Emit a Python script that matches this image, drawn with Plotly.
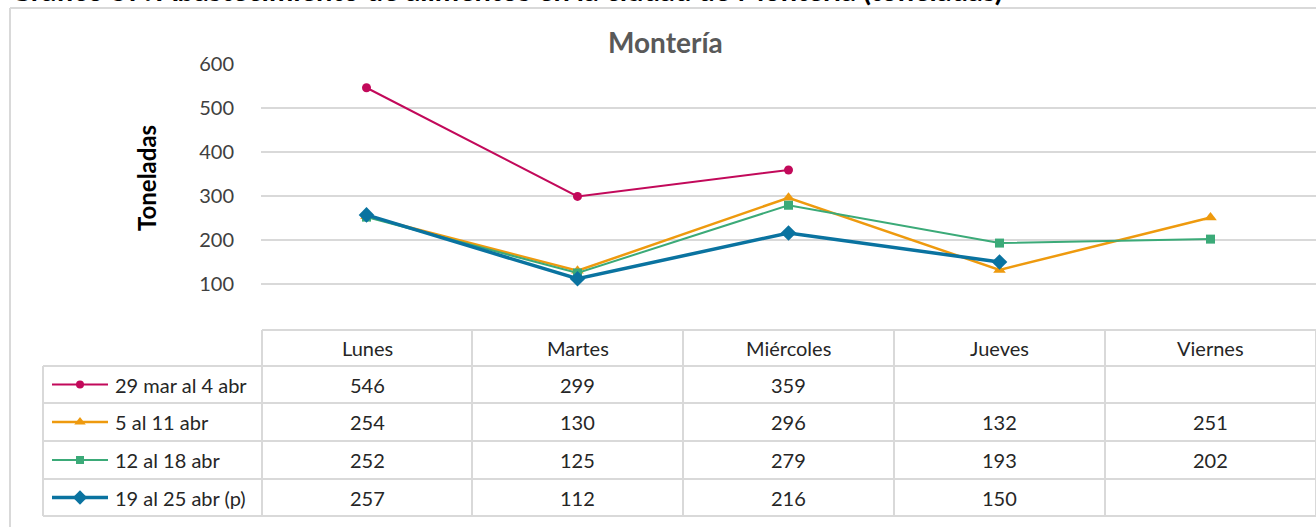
import plotly.graph_objects as go

# ---- data ----
categories = ["Lunes", "Martes", "Miércoles", "Jueves", "Viernes"]
series_names = ["29 mar al 4 abr", "5 al 11 abr", "12 al 18 abr", "19 al 25 abr (p)"]
s1 = [546, 299, 359, None, None]
s2 = [254, 130, 296, 132, 251]
s3 = [252, 125, 279, 193, 202]
s4 = [257, 112, 216, 150, None]
series_values = [s1, s2, s3, s4]
y_ticks = [100, 200, 300, 400, 500, 600]
chart_title = "Montería"
y_title = "Toneladas"
page_title = "Gráfico 57. Abastecimiento de alimentos en la ciudad de Montería (toneladas)"

# ---- styles ----
colors = ["#C2095A", "#EE9A0E", "#3BAA78", "#0A73A0"]
symbols = ["circle", "triangle-up", "square", "diamond"]
widths = [2, 2.5, 2, 3.5]
msizes = [9, 11, 9, 12]
grid = "#D9D9D9"
FONT = "Lato"
TXT = 20

W, H = 1316, 527
fig = go.Figure()

for name, vals, c, sym, w, ms in zip(series_names, series_values, colors, symbols, widths, msizes):
    fig.add_trace(go.Scatter(
        x=categories, y=vals, mode="lines+markers", name=name,
        line=dict(color=c, width=w), marker=dict(symbol=sym, size=ms, color=c),
        connectgaps=False, showlegend=False, xaxis="x", yaxis="y"))

# table geometry (pixel coords on overlay axes)
col_edges = [262, 472, 683, 894, 1105, 1316]
row_edges = [330, 366, 403, 441, 479, 516]
legend_left = 43
shapes = []
def line(x0, y0, x1, y1, width=2, color=grid):
    shapes.append(dict(type="line", xref="x2", yref="y2", x0=x0, y0=y0, x1=x1, y1=y1,
                       line=dict(color=color, width=width)))

# outer chart border
line(10, 8, 1320, 8)
line(10, 8, 10, 530)
# table horizontal lines
line(col_edges[0], row_edges[0], 1320, row_edges[0])
for ry in row_edges[1:]:
    line(legend_left, ry, 1320, ry)
# vertical lines
for cx in col_edges:
    line(cx, row_edges[0], cx, row_edges[-1])
line(legend_left, row_edges[1], legend_left, row_edges[-1])

annotations = []
# header
for i, cat in enumerate(categories):
    cx = (col_edges[i] + col_edges[i + 1]) / 2
    annotations.append(dict(x=cx, y=(row_edges[0] + row_edges[1]) / 2, xref="x2", yref="y2",
                            text=cat, showarrow=False, font=dict(family=FONT, size=TXT, color="#262626")))
# rows
for r, (name, vals, c, sym, w, ms) in enumerate(zip(series_names, series_values, colors, symbols, widths, msizes)):
    cy = (row_edges[r + 1] + row_edges[r + 2]) / 2
    annotations.append(dict(x=113, y=cy, xref="x2", yref="y2", xanchor="left", text=name,
                            showarrow=False, font=dict(family=FONT, size=TXT, color="#262626")))
    for i, v in enumerate(vals):
        if v is None:
            continue
        cx = (col_edges[i] + col_edges[i + 1]) / 2
        annotations.append(dict(x=cx, y=cy, xref="x2", yref="y2", text=str(v), showarrow=False,
                                font=dict(family=FONT, size=TXT, color="#262626")))
    # legend key
    fig.add_trace(go.Scatter(x=[52, 108], y=[cy, cy], mode="lines", line=dict(color=c, width=w),
                             showlegend=False, xaxis="x2", yaxis="y2", hoverinfo="skip"))
    fig.add_trace(go.Scatter(x=[80], y=[cy], mode="markers", marker=dict(symbol=sym, size=ms - 1, color=c),
                             showlegend=False, xaxis="x2", yaxis="y2", hoverinfo="skip"))

# page caption, clipped at the top edge like the reference
fig.add_trace(go.Scatter(x=[10], y=[-6.5], mode="text", text=["<b>%s</b>" % page_title],
                         textposition="middle right", cliponaxis=True,
                         textfont=dict(family=FONT, size=29, color="#000000"),
                         showlegend=False, xaxis="x2", yaxis="y2", hoverinfo="skip"))

# titles
annotations.append(dict(x=665, y=42, xref="x2", yref="y2", text="<b>%s</b>" % chart_title, showarrow=False,
                        font=dict(family=FONT, size=28, color="#595959")))
annotations.append(dict(x=146, y=178, xref="x2", yref="y2", text="<b>%s</b>" % y_title, showarrow=False,
                        textangle=-90, font=dict(family=FONT, size=24, color="#000000")))

plot_top, plot_bottom = 64, 328
fig.update_layout(
    width=W, height=H, margin=dict(l=0, r=0, t=0, b=0, autoexpand=False),
    paper_bgcolor="white", plot_bgcolor="rgba(0,0,0,0)",
    font=dict(family=FONT),
    xaxis=dict(domain=[261 / W, 1316 / W], range=[-0.5, 4.5], type="category", automargin=False,
               showticklabels=False, showgrid=False, zeroline=False, showline=False, fixedrange=True),
    yaxis=dict(domain=[(H - plot_bottom) / H, (H - plot_top) / H], range=[0, 600], automargin=False,
               tickvals=y_ticks, ticktext=[str(t) for t in y_ticks],
               showgrid=True, gridcolor=grid, gridwidth=2, zeroline=False, showline=False,
               ticks="outside", ticklen=22, tickcolor="rgba(0,0,0,0)",
               tickfont=dict(family=FONT, size=20, color="#404040")),
    xaxis2=dict(domain=[0, 1], range=[0, W], visible=False, anchor="y2", fixedrange=True, automargin=False),
    yaxis2=dict(domain=[0, 1], range=[H, 0], visible=False, anchor="x2", fixedrange=True, automargin=False),
    shapes=shapes, annotations=annotations,
)

post = ("document.documentElement.style.margin='0';document.body.style.margin='0';"
        "document.body.style.overflow='hidden';"
        "var d=document.querySelector('.plotly-graph-div');"
        "d.style.position='fixed';d.style.top='0px';d.style.left='0px';")
fig.write_html("out.html", config={"displayModeBar": False, "responsive": False}, post_script=post)
